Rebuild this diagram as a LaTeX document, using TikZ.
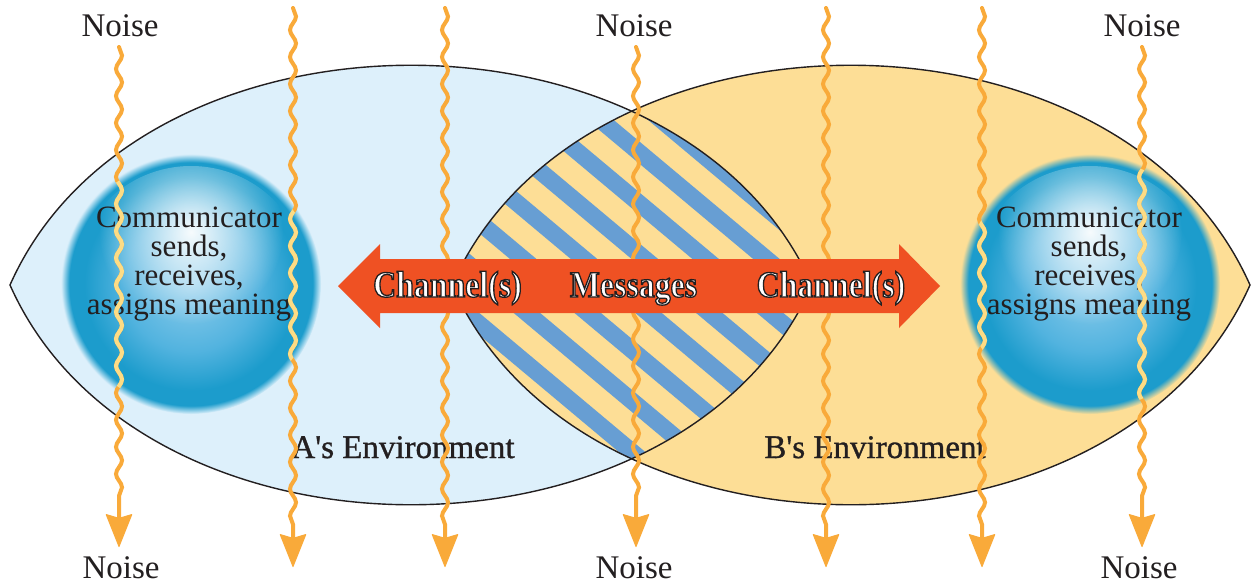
\documentclass[tikz,border=0pt]{standalone}
\usepackage{fontspec}
\setmainfont{Liberation Serif}[Ligatures=TeXOff]
\newfontfamily\envfont{Liberation Serif}[Ligatures=TeXOff, FakeBold=1.0]
\newfontfamily\arrowfont{Liberation Serif}[FakeStretch=0.86]
\usetikzlibrary{calc,decorations.pathmorphing,arrows.meta,fadings}

\definecolor{envA}{HTML}{DDF0FB}
\definecolor{envB}{HTML}{FDDE96}
\definecolor{stripeblue}{HTML}{679ED3}
\definecolor{ink}{HTML}{231F20}
\definecolor{chan}{HTML}{EF5123}
\definecolor{noiseorange}{HTML}{F9AA3A}
\definecolor{noisepale}{HTML}{FDDC85}
\definecolor{orbdeep}{HTML}{1C9CCC}
\definecolor{orbmid}{HTML}{52B3DF}
\definecolor{orbcore}{HTML}{8FCDEC}

% sphere shadings: lighter core, deep blue rim, short soft edge into the environment colour
\pgfdeclareradialshading{orbA}{\pgfpointorigin}{color(0bp)=(orbcore); color(13bp)=(orbmid); color(20.5bp)=(orbdeep); color(23.4bp)=(orbdeep); color(25bp)=(envA); color(50bp)=(envA)}
\pgfdeclareradialshading{orbB}{\pgfpointorigin}{color(0bp)=(orbcore); color(13bp)=(orbmid); color(20.5bp)=(orbdeep); color(23.4bp)=(orbdeep); color(25bp)=(envB); color(50bp)=(envB)}
\tikzfading[name=glow, inner color=transparent!5, outer color=transparent!100]

% the two environments
\newcommand\lensA{(10,285) .. controls (140,-8) and (682,-8) .. (812,285) .. controls (682,578) and (140,578) .. (10,285) -- cycle}
\newcommand\lensB{(452,285) .. controls (582,-8) and (1120,-8) .. (1250,285) .. controls (1120,578) and (582,578) .. (452,285) -- cycle}

% white letters with a dark rim (fill, then stroke)
\newcommand\rimtext[3]{%
  \node[arrowlabel] (#1) at (#2)
    {\special{pdf:literal direct 2 Tr 1.3 w 0.137 0.122 0.125 RG}#3\special{pdf:literal direct 0 Tr 1 w}};%
}

\tikzset{
  wave/.style={line width=4pt, line cap=round, decorate,
    decoration={snake, segment length=27pt, amplitude=3pt, post length=40pt}},
  noise/.style={wave, draw=noiseorange,
    -{Stealth[length=34pt, width=27pt, inset=4pt, line width=1pt, round]}},
  noiselight/.style={wave, draw=noisepale},
  label/.style={text=ink, inner sep=0pt, anchor=base, font=\fontsize{33pt}{36pt}\selectfont},
  envlabel/.style={label, font=\envfont\fontsize{33pt}{36pt}\selectfont},
  orbtext/.style={text=ink, inner sep=0pt, align=center, font=\fontsize{31pt}{29pt}\selectfont},
  arrowlabel/.style={inner sep=0pt, anchor=base, text=white,
    font=\arrowfont\bfseries\fontsize{37pt}{40pt}\selectfont},
  outline/.style={draw=ink, line width=1.4pt},
}

\begin{document}
\begin{tikzpicture}[x=1pt, y=-1pt]
\useasboundingbox (0,0) rectangle (1253,584);
\fill[white] (0,0) rectangle (1253,584);

% environments
\fill[envA] \lensA;
\fill[envB] \lensB;

% shared field of experience: striped overlap
\begin{scope}
  \clip \lensA;
  \clip \lensB;
  \fill[envB] (400,80) rectangle (860,490);
  \foreach \k in {-12,...,12} {
    \pgfmathsetmacro\sx{547.4+\k*25.1-320}
    \pgfmathsetmacro\sy{228.3-\k*29.9-268}
    \draw[stripeblue, line width=17pt] (\sx,\sy) -- ++(640,536);
  }
\end{scope}

\draw[outline] \lensA;
\draw[outline] \lensB;

% communicators
\shade[shading=orbA] (191,284) circle (130pt);
\begin{scope}
  \clip (191,284) circle (118pt);
  \fill[white, path fading=glow] (191,232) circle (92pt);
\end{scope}
\shade[shading=orbB] (1090,284) circle (130pt);
\begin{scope}
  \clip (1090,284) circle (118pt);
  \fill[white, path fading=glow] (1090,232) circle (92pt);
\end{scope}

\node[orbtext] (commA) at (189,264) {Communicator\\sends,\\receives,\\assigns meaning};
\node[orbtext] (commB) at (1089,264) {Communicator\\sends,\\receives,\\assigns meaning};

\node[envlabel] (envAlabel) at (403,458) {A's Environment};
\node[envlabel] (envBlabel) at (875,458) {B's Environment};

% noise labels
\node[label] (nt1) at (120,36) {Noise};
\node[label] (nt2) at (634,36) {Noise};
\node[label] (nt3) at (1142,36) {Noise};
\node[label] (nb1) at (121,578) {Noise};
\node[label] (nb2) at (634,578) {Noise};
\node[label] (nb3) at (1139,578) {Noise};

% ends of the unlabelled noise lines
\coordinate (w2t) at (293,8);   \coordinate (w2b) at (293,567);
\coordinate (w3t) at (445,8);   \coordinate (w3b) at (445,567);
\coordinate (w5t) at (826,8);   \coordinate (w5b) at (826,567);
\coordinate (w6t) at (982,8);   \coordinate (w6b) at (982,567);

% noise lines
\draw[noise] ($(nt1.base)+(-1,11)$) -- ($(nb1.base)+(-2,-31)$);
\draw[noise] (w2t) -- (w2b);
\draw[noise] (w3t) -- (w3b);
\draw[noise] ($(nt2.base)+(2,11)$) -- ($(nb2.base)+(2,-31)$);
\draw[noise] (w5t) -- (w5b);
\draw[noise] (w6t) -- (w6b);
\draw[noise] ($(nt3.base)+(0,11)$) -- ($(nb3.base)+(3,-31)$);

% lighter where the noise crosses a communicator
\begin{scope}
  \clip (191,284) circle (126pt);
  \draw[noiselight] ($(nt1.base)+(-1,11)$) -- ($(nb1.base)+(-2,-31)$);
  \draw[noiselight] (w2t) -- (w2b);
\end{scope}
\begin{scope}
  \clip (1090,284) circle (126pt);
  \draw[noiselight] (w6t) -- (w6b);
  \draw[noiselight] ($(nt3.base)+(0,11)$) -- ($(nb3.base)+(3,-31)$);
\end{scope}

% channel arrow
\fill[chan] (338,286) -- (380,244) -- (380,259) -- (899,259) -- (899,244)
  -- (940,286) -- (899,328) -- (899,313) -- (380,313) -- (380,328) -- cycle;

\rimtext{chanA}{447.5,297}{Channel(s)}
\rimtext{msgs}{633.5,297}{Messages}
\rimtext{chanB}{831,297}{Channel(s)}
\end{tikzpicture}
\end{document}
